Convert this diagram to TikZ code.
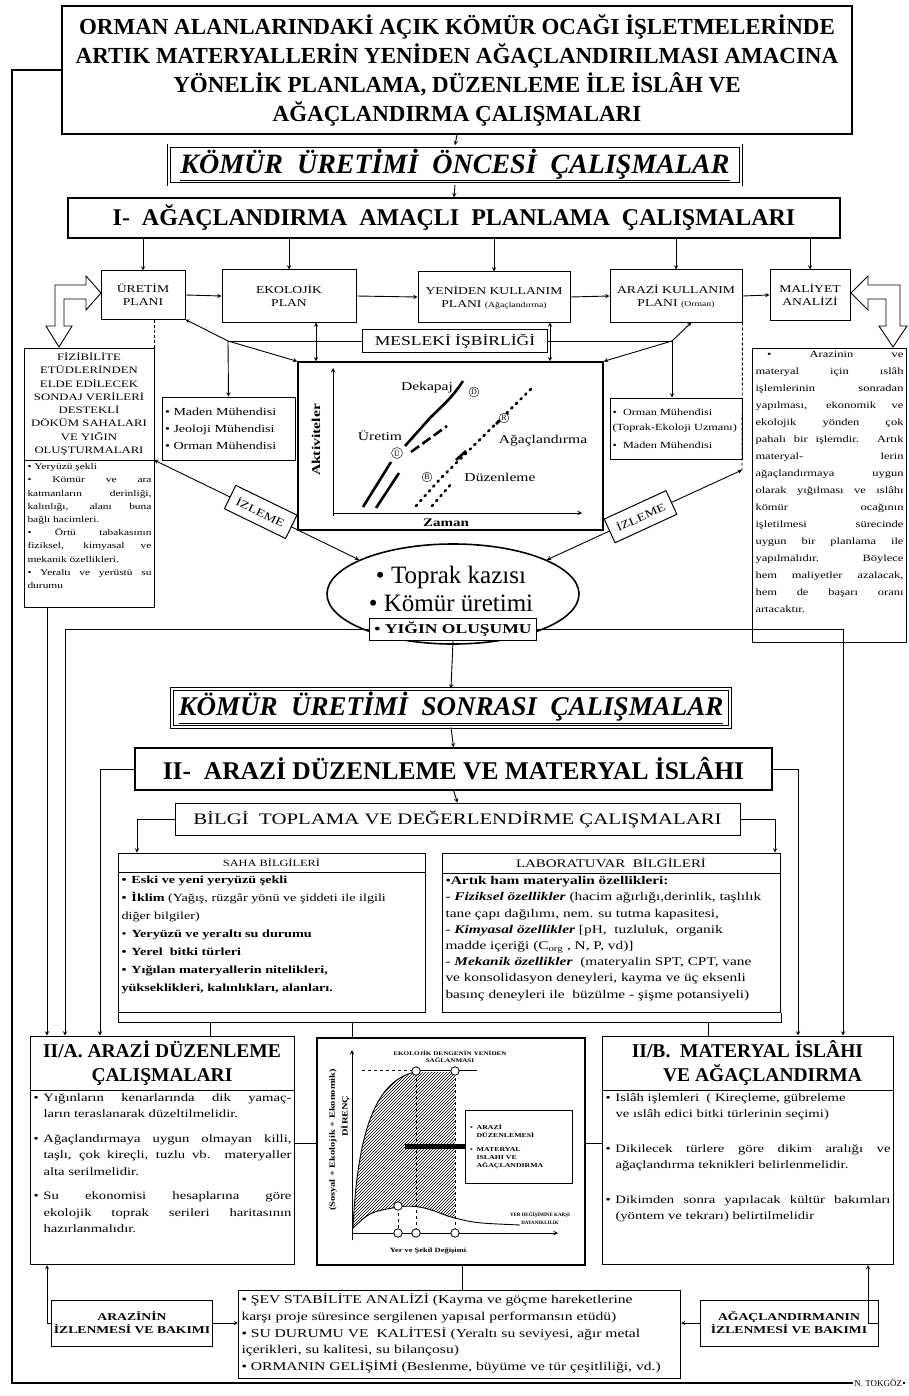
\documentclass[tikz,border=0pt]{standalone}
\usepackage{fontspec}
\setmainfont{Liberation Serif}
\newfontfamily\wide{Liberation Serif}[FakeStretch=1.3]
\usetikzlibrary{shapes.geometric,patterns,calc}

\newcommand{\fs}[2]{\fontsize{#1}{#2}\selectfont}
\newcommand{\pbx}[3]{\parbox[t][#2][t]{#1}{#3}}
\newcommand{\bul}{\par\hangindent=10pt\hangafter=1\noindent\makebox[10pt][l]{\textbullet}}

\begin{document}
\begin{tikzpicture}
[x=1pt,y=-1pt,>=stealth,
box/.style={draw,line width=1pt,fill=white,align=center,inner sep=2pt},
dbox/.style={draw,line width=0.8pt,double,double distance=2.5pt,fill=white,align=center},
txtbox/.style={draw,line width=1pt,fill=white,inner sep=3pt,anchor=north west},
izl/.style={draw,line width=1pt,fill=white,minimum width=68,minimum height=26,font=\wide\fs{11}{12}},
ok/.style={->,line width=0.9pt},
ln/.style={line width=0.9pt},
circ/.style={circle,draw,thin,inner sep=0.8pt,font=\fs{8}{8},fill=white},
lbl/.style={font=\wide\fs{12}{13}},
]
\useasboundingbox (0,0) rectangle (909,1396);

%Heading
\node (title) at (457,70)[box,line width=1.5pt,minimum width=790,minimum height=128,font=\fs{23}{29}\bfseries]{ORMAN ALANLARINDAKİ AÇIK KÖMÜR OCAĞI İŞLETMELERİNDE\\ARTIK MATERYALLERİN YENİDEN AĞAÇLANDIRILMASI AMACINA\\YÖNELİK PLANLAMA, DÜZENLEME İLE İSLÂH VE\\AĞAÇLANDIRMA ÇALIŞMALARI};
\node (pre) at (455,165)[dbox,minimum width=572,minimum height=32,font=\fs{28}{29}\bfseries\itshape]{\underline{KÖMÜR~~ÜRETİMİ~~ÖNCESİ~~ÇALIŞMALAR}};
\node (plan) at (454,218)[box,line width=1.3pt,minimum width=772,minimum height=40,font=\fs{24}{25}\bfseries]{I-~~AĞAÇLANDIRMA~~AMAÇLI~~PLANLAMA~~ÇALIŞMALARI};

%Planning boxes
\node (uretim) at (143,295)[box,minimum width=84,minimum height=48,font=\wide\fs{10.5}{13}]{ÜRETİM\\PLANI};
\node (ekolojik) at (289,296)[box,minimum width=134,minimum height=52,font=\wide\fs{10.5}{13}]{EKOLOJİK\\PLAN};
\node (yeniden) at (494,297)[box,minimum width=152,minimum height=50,font=\wide\fs{10.5}{13}]{YENİDEN KULLANIM\\PLANI {\fs{7.5}{8}(Ağaçlandırma)}};
\node (arazi) at (676,296)[box,minimum width=132,minimum height=52,font=\wide\fs{10.5}{13}]{ARAZİ KULLANIM\\PLANI {\fs{7.5}{8}(Orman)}};
\node (maliyet) at (810,295)[box,minimum width=80,minimum height=50,font=\wide\fs{10.5}{13}]{MALİYET\\ANALİZİ};
\node (mesleki) at (455,341)[box,minimum width=185,minimum height=23,font=\wide\fs{13.5}{14}]{MESLEKİ İŞBİRLİĞİ};

\draw[ok] (title.south) -- (pre.north);
\draw[ok] (pre.south) -- (plan.north);
\foreach \n in {uretim,ekolojik,yeniden,arazi,maliyet}
  \draw[ok] (\n.north |- plan.south) -- (\n.north);
\draw[ok] (uretim.east) -- (ekolojik.west);
\draw[ok] (ekolojik.east) -- (yeniden.west);
\draw[ok] (yeniden.east) -- (arazi.west);
\draw[ok] (arazi.east) -- (maliyet.west);

%Hollow arrows
\draw[line width=0.9pt,fill=white] (55,285) -- (86,285) -- (86,276) -- (101,293) -- (86,310) -- (86,299) -- (64,299) -- (64,326) -- (72,326) -- (59,347) -- (46,326) -- (55,326) -- cycle;
\draw[line width=0.9pt,fill=white] (900,285) -- (868,285) -- (868,276) -- (851,293) -- (868,310) -- (868,299) -- (886,299) -- (886,326) -- (879,326) -- (893,347) -- (907,326) -- (900,326) -- cycle;

%Left column
\node (fizh) at (89,404)[box,minimum width=130,minimum height=112,font=\wide\fs{9.8}{13.3}]{FİZİBİLİTE\\ETÜDLERİNDEN\\ELDE EDİLECEK\\SONDAJ VERİLERİ\\DESTEKLİ\\DÖKÜM SAHALARI\\VE YIĞIN\\OLUŞTURMALARI};
\node (fizb) at (24,460)[txtbox,font=\wide\fs{8.8}{13.2}]{\pbx{124pt}{141pt}{\sloppy
\textbullet\ Yeryüzü şekli\par
\textbullet\ Kömür ve ara\linebreak katmanların derinliği,\linebreak kalınlığı, alanı buna\linebreak bağlı hacimleri.\par
\textbullet\ Örtü tabakasının\linebreak fiziksel, kimyasal ve\linebreak mekanik özellikleri.\par
\textbullet\ Yeraltı ve yerüstü su\linebreak durumu}};

%Right column
\node (rbox) at (752,348)[txtbox,font=\wide\fs{9.6}{17}]{\pbx{148pt}{288pt}{\sloppy
\hspace*{1.2em}\textbullet\ Arazinin ve\linebreak materyal için ıslâh\linebreak işlemlerinin sonradan\linebreak yapılması, ekonomik ve\linebreak ekolojik yönden çok\linebreak pahalı bir işlemdir. Artık\linebreak materyal- lerin\linebreak ağaçlandırmaya uygun\linebreak olarak yığılması ve ıslâhı\linebreak kömür ocağının\linebreak işletilmesi sürecinde\linebreak uygun bir planlama ile\linebreak yapılmalıdır. Böylece\linebreak hem maliyetler azalacak,\linebreak hem de başarı oranı\linebreak artacaktır.}};

%Experts
\node (maden) at (228.5,428.5)[box,minimum width=133,minimum height=63,text width=127,align=left,font=\wide\fs{10.8}{17}]{\textbullet\ Maden Mühendisi\\\textbullet\ Jeoloji Mühendisi\\\textbullet\ Orman Mühendisi};
\node (orman) at (676,428.5)[box,minimum width=132,minimum height=61,text width=127,align=left,font=\wide\fs{9.4}{15}]{\textbullet\ \ Orman Mühendisi\\(Toprak-Ekoloji Uzmanı)\\[3pt]\textbullet\ \ Maden Mühendisi};

%Activity graph
\node (graph) at (450.5,446)[box,line width=1.3pt,minimum width=305,minimum height=168]{};
\draw[->,line width=1pt] (333,516) -- (333,368);
\draw[->,line width=1pt] (333,513) -- (582,513);
\node (akt) at (316,440)[rotate=90,font=\wide\fs{12}{13}\bfseries]{Aktiviteler};
\node (zaman) at (446,523)[font=\wide\fs{11.5}{12}\bfseries]{Zaman};
\draw[line width=2.6pt] (363,507) -- (391,462);
\draw[line width=2.6pt] (376,508) -- (399,473);
\draw[line width=2.6pt] (405,446) -- (430,418) .. controls (442,406) and (452,398) .. (463,381);
\draw[line width=2.6pt,dash pattern=on 10pt off 4pt] (411,452) -- (447,426);
\draw[line width=2.6pt,dash pattern=on 1.5pt off 5pt,line cap=round] (416,506) -- (440,479) -- (532,388);
\draw[line width=2.6pt,dash pattern=on 1.5pt off 5pt,line cap=round] (432,506) -- (452,483);
\draw[line width=2.6pt] (456,460) -- (466,451);
\draw[line width=2.6pt] (496,424) -- (508,413);
\node (cu) at (397,453)[circ]{Ü};
\node (cd) at (474,392)[circ]{D};
\node (cr) at (504,418)[circ]{R};
\node (cb) at (427,477)[circ]{B};
\node (dek) at (427,388)[lbl]{Dekapaj};
\node (ure) at (380,436)[lbl]{Üretim};
\node (aga) at (543,441)[lbl]{Ağaçlandırma};
\node (duz) at (500,477)[lbl]{Düzenleme};

%Links of the planning level
\coordinate (mL) at (228,341);
\coordinate (mR) at (672,341);
\coordinate (fL) at (154,460);
\coordinate (fR) at (742,470);
\draw[ln] (mL) -- (mesleki.west);
\draw[ln] (mesleki.east) -- (mR);
\draw[ok] (mL) -- (uretim.south east);
\draw[ok] (mL) -- (maden.north);
\draw[ok] (mL) -- (graph.north west);
\draw[ok] (mR) -- (arazi.-60);
\draw[ok] (mR) -- (mR |- orman.north);
\draw[ok] (mR) -- (graph.north east);
\coordinate (e1) at ($(ekolojik.south)+(27,0)$);
\coordinate (y1) at ($(yeniden.south)+(56,0)$);
\draw[<->,line width=0.9pt] (e1) -- (e1 |- graph.north);
\draw[<->,line width=0.9pt] (y1) -- (y1 |- graph.north);
\draw[ln,densely dashed] (fL |- uretim.south) -- (fL);
\draw[ln,densely dashed] (arazi.south east) -- (fR);

%Production
\node (kazi) at (453,594)[ellipse,draw,line width=1.6pt,minimum width=252,minimum height=100]{};
\node (kaz1) at (451,577)[font=\fs{25}{26}]{\textbullet\ Toprak kazısı};
\node (kaz2) at (451,603)[font=\fs{25}{26}]{\textbullet\ Kömür üretimi};
\node (yigin) at (453,629)[box,minimum width=167,minimum height=22,font=\wide\fs{13.5}{14}\bfseries]{\textbullet\ YIĞIN OLUŞUMU};
\draw[<->,line width=0.9pt] (fL) -- node[izl,sloped,pos=0.52]{İZLEME} (kazi.160);
\draw[<->,line width=0.9pt] (fR) -- node[izl,sloped,pos=0.52]{İZLEME} (kazi.20);

%After production
\node (post) at (451,708)[dbox,minimum width=558,minimum height=38,font=\fs{27}{28}\bfseries\itshape]{\underline{KÖMÜR~~ÜRETİMİ~~SONRASI~~ÇALIŞMALAR}};
\node (ii) at (453.5,769)[box,line width=1.3pt,minimum width=637,minimum height=42,font=\fs{25.5}{27}\bfseries]{II-~~ARAZİ DÜZENLEME VE MATERYAL İSLÂHI};
\node (bilgi) at (457.5,819)[box,minimum width=565,minimum height=32,font=\wide\fs{16}{17}]{BİLGİ~~TOPLAMA VE DEĞERLENDİRME ÇALIŞMALARI};
\draw[ok] (yigin.south) -- (post.north);
\draw[ok] (post.south) -- (ii.north);
\draw[ok] (ii.south) -- (bilgi.north);

%Information boxes
\node (sahah) at (271.5,862.5)[box,minimum width=307,minimum height=19,font=\wide\fs{9.5}{11}]{SAHA BİLGİLERİ};
\node (sahab) at (118,872)[txtbox,font=\wide\fs{10.9}{18}\bfseries]{\pbx{301pt}{134pt}{\raggedright
\bul Eski ve yeni yeryüzü şekli
\bul İklim \mdseries(Yağış, rüzgâr yönü ve şiddeti ile ilgili\\ diğer bilgiler)
\bul\bfseries Yeryüzü ve yeraltı su durumu
\bul Yerel~ bitki türleri
\bul Yığılan materyallerin nitelikleri,\\ yükseklikleri, kalınlıkları, alanları.}};
\node (labh) at (611,863)[box,minimum width=338,minimum height=20,font=\wide\fs{11.5}{12}]{LABORATUVAR~ BİLGİLERİ};
\node (labb) at (442,873)[txtbox,font=\wide\fs{11.8}{16.2}]{\pbx{332pt}{133pt}{\raggedright
\noindent\textbullet\textbf{Artık ham materyalin özellikleri:}\par
\hangindent=8pt\hangafter=1\noindent- \textbf{\textit{Fiziksel özellikler}} (hacim ağırlığı,derinlik, taşlılık\\ tane çapı dağılımı, nem. su tutma kapasitesi,\par
\hangindent=8pt\hangafter=1\noindent- \textbf{\textit{Kimyasal özellikler}} [pH,~ tuzluluk,~ organik\\ madde içeriği (C\textsubscript{org} , N, P, vd)]\par
\hangindent=8pt\hangafter=1\noindent- \textbf{\textit{Mekanik özellikler}}~ (materyalin SPT, CPT, vane\\ ve konsolidasyon deneyleri, kayma ve üç eksenli\\ basınç deneyleri ile~ büzülme - şişme potansiyeli)}};

%Work boxes
\node (iiah) at (162,1063)[box,minimum width=264,minimum height=54,font=\fs{19.5}{24}\bfseries]{II/A. ARAZİ DÜZENLEME\\ÇALIŞMALARI};
\node (iiab) at (30,1090)[txtbox,font=\wide\fs{11.3}{16.5}]{\pbx{258pt}{168pt}{\sloppy
\bul Yığınların kenarlarında dik yamaç-\linebreak ların teraslanarak düzeltilmelidir.\par\vspace{8pt}
\bul Ağaçlandırmaya uygun olmayan killi,\linebreak taşlı, çok kireçli, tuzlu vb. materyaller\linebreak alta serilmelidir.\par\vspace{8pt}
\bul Su ekonomisi hesaplarına göre\linebreak ekolojik toprak serileri haritasının\linebreak hazırlanmalıdır.}};
\node (iibh) at (747.5,1063)[box,minimum width=291,minimum height=54,align=left,font=\fs{19.5}{24}\bfseries]{II/B.~~MATERYAL İSLÂHI\\\hspace*{1.6em}VE AĞAÇLANDIRMA};
\node (iibb) at (602,1090)[txtbox,font=\wide\fs{11.3}{16.5}]{\pbx{285pt}{168pt}{\sloppy
\bul Islâh işlemleri~ ( Kireçleme, gübreleme\\ ve ıslâh edici bitki türlerinin seçimi)\par\vspace{18pt}
\bul Dikilecek türlere göre dikim aralığı ve\linebreak ağaçlandırma teknikleri belirlenmelidir.\par\vspace{18pt}
\bul Dikimden sonra yapılacak kültür bakımları\linebreak (yöntem ve tekrarı) belirtilmelidir}};

%Resistance graph
\node (graph2) at (451,1151.5)[box,line width=1.3pt,minimum width=268,minimum height=227]{};
\fill[pattern=north east lines] (353,1228) .. controls (358,1120) and (380,1080) .. (415,1072) -- (455,1072) -- (455,1218) .. controls (440,1215) and (425,1203) .. (398,1207) .. controls (370,1212) .. (353,1228);
\draw[line width=0.9pt] (353,1228) .. controls (358,1120) and (380,1080) .. (415,1072);
\draw[line width=0.9pt] (353,1228) .. controls (370,1212) .. (398,1207) .. controls (425,1203) and (440,1215) .. (455,1218) .. controls (475,1223) .. (520,1225);
\draw[->,line width=1pt] (352,1240) -- (352,1050);
\draw[->,line width=1pt] (352,1233) -- (558,1233);
\draw[line width=0.9pt,dashed] (362,1070) -- (415,1070);
\draw[line width=0.9pt] (415,1070) -- (477,1070);
\draw[line width=0.8pt,dashed] (416,1072) -- (416,1233);
\draw[line width=0.8pt,dashed] (455,1072) -- (455,1233);
\draw[line width=0.8pt,dashed] (398,1207) -- (398,1233);
\foreach \p in {(416,1071),(455,1071),(398,1206),(398,1233),(416,1233),(455,1233)}
  \draw[line width=0.8pt,fill=white] \p circle (4.2);
\node (dir1) at (333,1140)[rotate=90,font=\wide\fs{8}{9}\bfseries]{(Sosyal + Ekolojik + Ekonomik)};
\node (dir2) at (345,1116)[rotate=90,font=\wide\fs{8}{9}\bfseries]{DİRENÇ};
\node (denge) at (450,1057)[align=center,font=\wide\fs{5.5}{7}\bfseries]{EKOLOJİK DENGENİN YENİDEN\\SAĞLANMASI};
\node (yerd) at (540,1218)[align=center,font=\fs{5}{8}\bfseries]{YER DEĞİŞİMİNE KARŞI\\DAYANIKLILIK};
\node (sekil) at (428,1251)[font=\wide\fs{6.5}{7}\bfseries]{Yer ve Şekil Değişimi};
\node (inner) at (519,1146.5)[box,minimum width=107,minimum height=73,text width=98,align=left,font=\wide\fs{6}{8}\bfseries]{\textbullet\ \ ARAZİ\\\hspace*{1.1em}DÜZENLEMESİ\\[6pt]\textbullet\ \ MATERYAL\\\hspace*{1.1em}ISLAHI VE\\\hspace*{1.1em}AĞAÇLANDIRMA};
\draw[line width=5pt] (inner.west) -- (405,1146.5);

%Monitoring
\node (arazinin) at (132,1323)[box,minimum width=160,minimum height=46,font=\wide\fs{10.5}{13}\bfseries]{ARAZİNİN\\İZLENMESİ VE BAKIMI};
\node (agac) at (789,1323)[box,minimum width=178,minimum height=46,font=\wide\fs{10.5}{13}\bfseries]{AĞAÇLANDIRMANIN\\İZLENMESİ VE BAKIMI};
\node (bot) at (238,1290)[txtbox,font=\wide\fs{12}{16.8}]{\pbx{436pt}{82pt}{\raggedright
\textbullet\ ŞEV STABİLİTE ANALİZİ (Kayma ve göçme hareketlerine\\
karşı proje süresince sergilenen yapısal performansın etüdü)\\
\textbullet\ SU DURUMU VE~ KALİTESİ (Yeraltı su seviyesi, ağır metal\\
içerikleri, su kalitesi, su bilançosu)\\
\textbullet\ ORMANIN GELİŞİMİ (Beslenme, büyüme ve tür çeşitliliği, vd.)}};

%Columns for the long connectors
\coordinate (cA) at (47,0);
\coordinate (cB) at (65,0);
\coordinate (cC) at (100,0);
\coordinate (cD) at (137,0);
\coordinate (cE) at (775,0);
\coordinate (cF) at (798,0);
\coordinate (cG) at (843,0);
\coordinate (cH) at (868,0);
\coordinate (cI) at (462,0);
\coordinate (cJ) at (210,0);
\coordinate (cK) at (352,0);
\coordinate (cL) at (708,0);
\coordinate (hb) at (0,1022);
\coordinate (r1) at (0,1143);

\draw[ok] (cA |- fizb.south) -- (cA |- iiah.north);
\draw[ok] (yigin.west) -| (cB |- iiah.north);
\draw[ok] (yigin.east) -| (cG |- iibh.north);
\draw[ok] (ii.west) -| (cC |- iiah.north);
\draw[ok] (ii.east) -| (cF |- iibh.north);
\draw[ok] (bilgi.west) -| (cD |- sahah.north);
\draw[ok] (bilgi.east) -| (cE |- labh.north);
\draw[ln] (sahab.south west) -- (sahab.south west |- hb) -- (labb.south east |- hb) -- (labb.south east);
\draw[ln] (cJ |- hb) -- (cJ |- iiah.north);
\draw[ln] (cK |- hb) -- (cK |- graph2.north);
\draw[ln] (cL |- hb) -- (cL |- iibh.north);
\draw[ln] (iiab.east |- r1) -- (graph2.west |- r1);
\draw[ln] (graph2.east |- r1) -- (iibb.west |- r1);
\draw[ln] (cI |- graph2.south) -- (cI |- bot.north);
\draw[ok] (arazinin.west) -| (cA |- iiab.south);
\draw[ok] (arazinin.east) -- (bot.west |- arazinin.east);
\draw[ok] (agac.west) -- (bot.east |- agac.west);
\draw[ok] (agac.east) -| (cH |- iibb.south);

%Frame
\coordinate (fr1) at (12,1383);
\coordinate (fr2) at (905,1383);
\draw[line width=1.4pt] (title.west) -| (fr1) -- node[pos=0.97,fill=white,inner sep=1pt,font=\fs{9}{10}] (author) {N. TOKGÖZ} (fr2);

\end{tikzpicture}
\end{document}
